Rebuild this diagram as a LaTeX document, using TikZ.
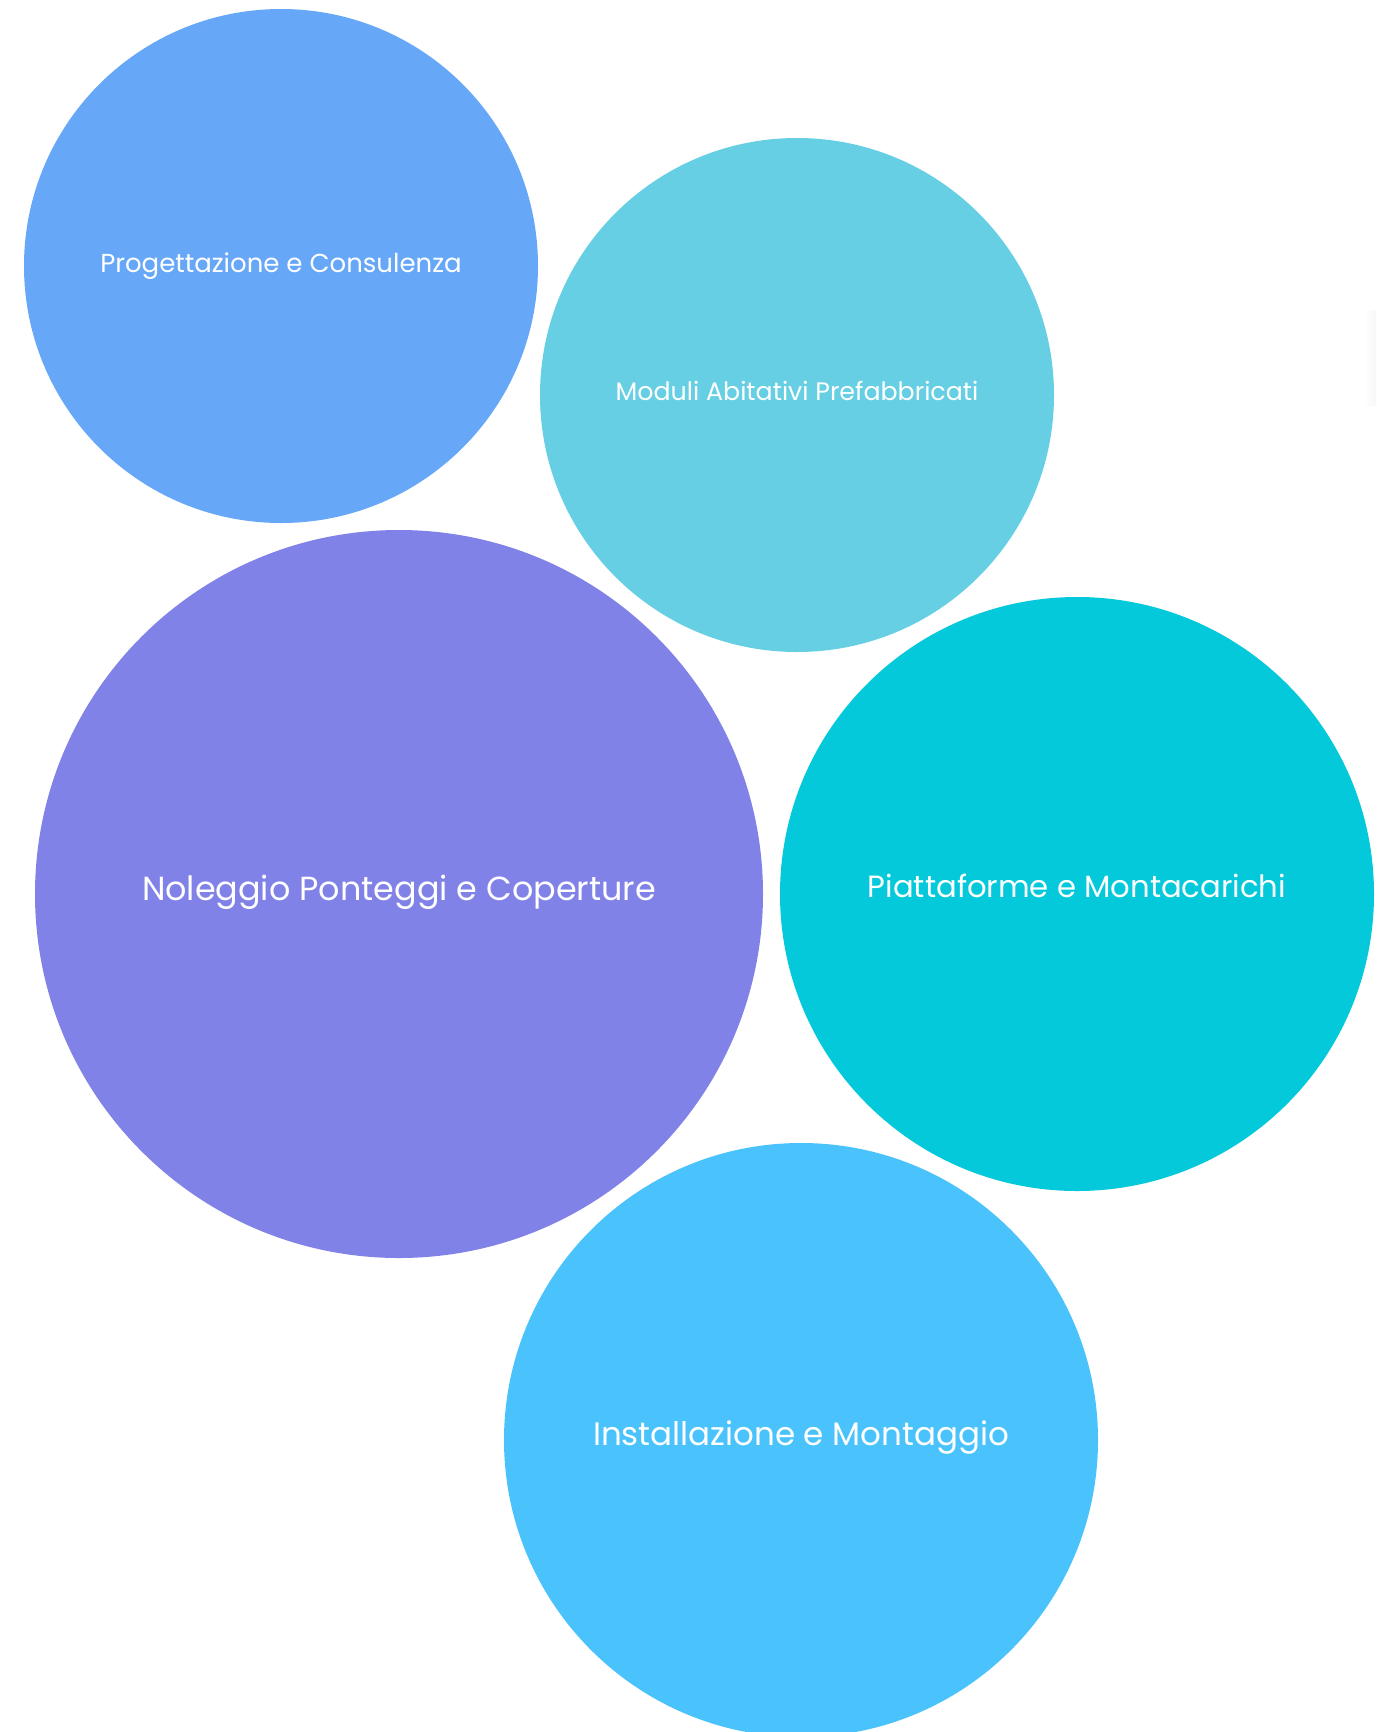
\documentclass[tikz,border=0pt]{standalone}
\usepackage{fontspec}
\setmainfont{Poppins}
\definecolor{cBlue}{RGB}{103,167,248}
\definecolor{cSky}{RGB}{102,207,227}
\definecolor{cViolet}{RGB}{128,130,231}
\definecolor{cTeal}{RGB}{3,201,219}
\definecolor{cLight}{RGB}{74,195,253}
\begin{document}
\begin{tikzpicture}[x=1pt,y=-1pt,
  label/.style={anchor=base,text=white,inner sep=0pt}]
\useasboundingbox (0,0) rectangle (1376,1732);
\begin{scope}
\clip (0,0) rectangle (1376,1732);
\fill[cBlue] (281,266) circle (257);
\fill[cSky] (797,395) circle (257);
\fill[cViolet] (399,894) circle (364);
\fill[cTeal] (1077,894) circle (297);
\fill[cLight] (801,1440) circle (297);
\shade[left color=white,right color=black!3] (1364,310) rectangle (1376,405);
\end{scope}
\node[label,font=\fontsize{26}{30}\selectfont] (t1) at (281,272) {Progettazione e Consulenza};
\node[label,font=\fontsize{25.3}{30}\selectfont] (t2) at (797,400) {Moduli Abitativi Prefabbricati};
\node[label,font=\fontsize{33.4}{38}\selectfont] (t3) at (399,900) {Noleggio Ponteggi e Coperture};
\node[label,font=\fontsize{30.7}{35}\selectfont] (t4) at (1077,897) {Piattaforme e Montacarichi};
\node[label,font=\fontsize{32.5}{37}\selectfont] (t5) at (801,1445) {Installazione e Montaggio};
\end{tikzpicture}
\end{document}
